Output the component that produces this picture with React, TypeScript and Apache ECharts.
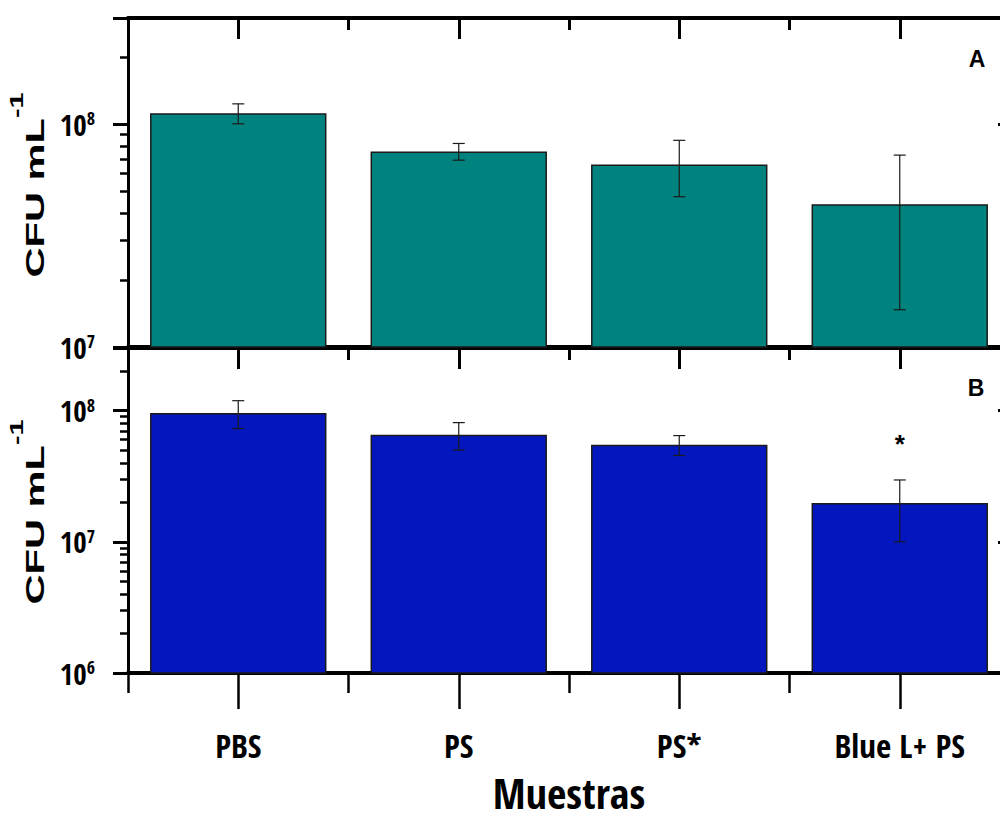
import React, { useEffect, useRef } from 'react';
import * as echarts from 'echarts';

// ---------------- data ----------------
const categories = ['PBS', 'PS', 'PS*', 'Blue L+ PS'];
const panelAMeans = [1.12e8, 7.55e7, 6.6e7, 4.37e7];
const panelAErrors = [1.15e7, 6.5e6, 1.87e7, 2.9e7];
const panelBMeans = [9.6e7, 6.55e7, 5.5e7, 1.98e7];
const panelBErrors = [2.3e7, 1.55e7, 9.5e6, 9.8e6];
const panelAYRange = [1e7, 3e8];
const panelBYRange = [1e6, 3e8];
const yTitleMain = 'CFU mL';
const yTitleSup = '-1';
const xTitle = 'Muestras';
const panelLetters = ['A', 'B'];
const starMark = { category: 3, value: 5.6e7, text: '*' };

// ---------------- styles ----------------
const NARROW = '"Open Sans Condensed", "Liberation Sans Narrow", "Arial Narrow", sans-serif';
const SANS = '"Liberation Sans", Arial, Helvetica, sans-serif';
const TEAL = '#00827E';
const BLUE = '#0417BE';
const INK = '#000';

const catAxis = (gridIndex: number, position: string, o: any) => ({
  type: 'category',
  gridIndex,
  position,
  data: categories,
  boundaryGap: true,
  axisLine: { show: o.line, lineStyle: { color: INK, width: 4 } },
  axisTick: {
    show: o.tick,
    inside: o.inside,
    alignWithLabel: o.center,
    length: o.len,
    lineStyle: { color: INK, width: o.tw || 3 },
  },
  axisLabel: o.label || { show: false },
  splitLine: { show: false },
  ...(o.extra || {}),
});

const powLabel = (v: number) => {
  const e = Math.log10(v);
  const r = Math.round(e);
  if (Math.abs(e - r) > 1e-6) return '';
  return `{b|10}{s|${r}}`;
};

const logAxis = (gridIndex: number, range: number[], isLeft: boolean) => ({
  type: 'log',
  logBase: 10,
  gridIndex,
  position: isLeft ? 'left' : 'right',
  min: range[0],
  max: range[1],
  axisLine: { show: isLeft, lineStyle: { color: INK, width: 3 } },
  axisTick: {
    show: true,
    inside: !isLeft,
    length: isLeft ? 15 : 12,
    lineStyle: { color: INK, width: 3 },
  },
  minorTick: {
    show: isLeft,
    splitNumber: 9,
    length: 8,
    lineStyle: { color: INK, width: 2.5 },
  },
  axisLabel: isLeft
    ? {
        show: true,
        margin: 33,
        formatter: powLabel,
        rich: {
          b: { fontFamily: NARROW, fontWeight: 'bold', fontSize: 29, color: INK, lineHeight: 30 },
          s: { fontFamily: NARROW, fontWeight: 'bold', fontSize: 18, color: INK, verticalAlign: 'top', lineHeight: 18 },
        },
      }
    : { show: false },
  splitLine: { show: false },
  minorSplitLine: { show: false },
});

const errorSeries = (means: number[], errs: number[], xAxisIndex: number, yAxisIndex: number) => ({
  type: 'custom',
  xAxisIndex,
  yAxisIndex,
  z: 10,
  clip: false,
  encode: { x: 0, y: [1, 2] },
  data: means.map((m, i) => [i, m - errs[i], m + errs[i]]),
  renderItem: (params: any, api: any) => {
    const x = api.value(0);
    const lo = api.coord([x, api.value(1)]);
    const hi = api.coord([x, api.value(2)]);
    const hw = 6;
    const style = { stroke: '#1a1a1a', lineWidth: 1.2 };
    return {
      type: 'group',
      children: [
        { type: 'line', shape: { x1: lo[0], y1: lo[1], x2: hi[0], y2: hi[1] }, style },
        { type: 'line', shape: { x1: lo[0] - hw, y1: lo[1], x2: lo[0] + hw, y2: lo[1] }, style },
        { type: 'line', shape: { x1: hi[0] - hw, y1: hi[1], x2: hi[0] + hw, y2: hi[1] }, style },
      ],
    };
  },
});

const yTitle = (cy: number) => ({
  type: 'text',
  x: 28,
  y: cy,
  rotation: Math.PI / 2,
  scaleX: 1.6,
  scaleY: 1,
  style: {
    text: `{n|${yTitleMain}}{s|${yTitleSup}}`,
    align: 'center',
    verticalAlign: 'middle',
    rich: {
      n: { fontFamily: SANS, fontWeight: 'bold', fontSize: 26, fill: INK, lineHeight: 40, verticalAlign: 'bottom' },
      s: { fontFamily: SANS, fontWeight: 'bold', fontSize: 18, fill: INK, lineHeight: 20, verticalAlign: 'top' },
    },
  },
});

const App = () => {
  const ref = useRef<HTMLDivElement>(null);
  useEffect(() => {
    if (!ref.current) return;
    const chart = echarts.init(ref.current, null, { renderer: 'svg' });
    const option: any = {
      animation: false,
      backgroundColor: '#fff',
      grid: [
        { left: 128, top: 18, width: 882, height: 329 },
        { left: 128, top: 348, width: 882, height: 325 },
      ],
      xAxis: [
        catAxis(0, 'bottom', { line: true, tick: false }),
        catAxis(0, 'top', { line: true, tick: true, inside: true, center: true, len: 21 }),
        catAxis(0, 'top', { line: false, tick: true, inside: true, center: false, len: 12 }),
        catAxis(1, 'top', { line: true, tick: true, inside: true, center: true, len: 21 }),
        catAxis(1, 'top', { line: false, tick: true, inside: true, center: false, len: 12 }),
        catAxis(1, 'bottom', {
          line: true,
          tick: true,
          inside: false,
          center: true,
          len: 36,
          tw: 2.5,
          label: {
            show: true,
            margin: 56,
            fontFamily: NARROW,
            fontWeight: 'bold',
            fontSize: 33,
            color: INK,
          },
          extra: {
            name: xTitle,
            nameLocation: 'middle',
            nameGap: 98,
            nameTextStyle: { fontFamily: NARROW, fontWeight: 'bold', fontSize: 42, color: INK },
          },
        }),
        catAxis(1, 'bottom', { line: false, tick: true, inside: false, center: false, len: 20, tw: 2.5 }),
      ],
      yAxis: [
        logAxis(0, panelAYRange, true),
        logAxis(0, panelAYRange, false),
        logAxis(1, panelBYRange, true),
        logAxis(1, panelBYRange, false),
      ],
      series: [
        {
          type: 'bar',
          xAxisIndex: 0,
          yAxisIndex: 0,
          data: panelAMeans,
          barWidth: '80%',
          itemStyle: { color: TEAL, borderColor: '#1a1a1a', borderWidth: 1.5 },
        },
        errorSeries(panelAMeans, panelAErrors, 0, 0),
        {
          type: 'bar',
          xAxisIndex: 5,
          yAxisIndex: 2,
          data: panelBMeans,
          barWidth: '80%',
          itemStyle: { color: BLUE, borderColor: '#1a1a1a', borderWidth: 1.5 },
          markPoint: {
            symbol: 'circle',
            symbolSize: 0,
            label: {
              show: true,
              position: 'inside',
              formatter: starMark.text,
              fontFamily: SANS,
              fontWeight: 'bold',
              fontSize: 26,
              color: INK,
            },
            data: [{ coord: [starMark.category, starMark.value] }],
          },
        },
        errorSeries(panelBMeans, panelBErrors, 5, 2),
      ],
      graphic: [
        yTitle(185),
        yTitle(512),
        {
          type: 'text',
          x: 977,
          y: 59,
          style: { text: panelLetters[0], fontFamily: SANS, fontWeight: 'bold', fontSize: 23, fill: INK, align: 'center', verticalAlign: 'middle' },
        },
        {
          type: 'text',
          x: 976,
          y: 388,
          style: { text: panelLetters[1], fontFamily: SANS, fontWeight: 'bold', fontSize: 23, fill: INK, align: 'center', verticalAlign: 'middle' },
        },
      ],
    };
    chart.setOption(option);
    return () => chart.dispose();
  }, []);
  return (
    <div
      ref={ref}
      style={{ position: 'fixed', left: 0, top: 0, width: 1010, height: 821, background: '#fff' }}
    />
  );
};

export default App;
